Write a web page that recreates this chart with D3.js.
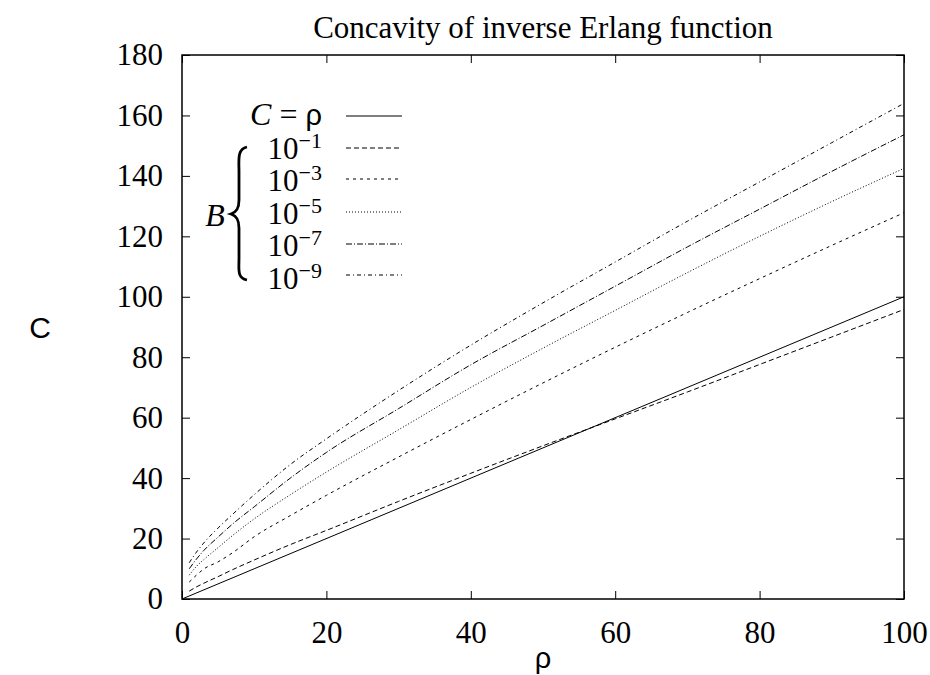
<!DOCTYPE html>
<html>
<head>
<meta charset="utf-8">
<script src="https://cdn.jsdelivr.net/npm/d3@7"></script>
<style>
  body { margin: 0; background: #fff; }
  svg { display: block; }
  text { font-family: "Liberation Serif", "Times New Roman", serif; fill: #000; }
</style>
</head>
<body>
<svg width="930" height="675"></svg>
<script>
// offered load rho, and capacity C for each blocking level
var rho = [1, 2, 3, 5, 7, 10, 15, 20, 30, 40, 50, 60, 70, 80, 90, 100];
var cB1 = [2.6, 4.0, 5.2, 7.4, 9.7, 12.9, 18.0, 22.7, 32.3, 41.6, 50.7, 59.6, 68.5, 77.6, 86.7, 95.8];
var cB3 = [5.6, 7.9, 9.9, 12.3, 15.3, 20.6, 27.6, 34.3, 47.0, 59.4, 71.5, 83.3, 94.8, 106.0, 117.0, 127.8];
var cB5 = [7.9, 10.8, 13.0, 17.0, 21.0, 26.5, 34.5, 42.0, 56.0, 70.0, 83.0, 95.5, 108.0, 120.0, 131.5, 142.5];
var cB7 = [10.0, 13.2, 16.0, 20.5, 24.8, 30.5, 40.0, 48.5, 63.0, 77.5, 90.5, 103.5, 116.5, 129.0, 141.5, 153.6];
var cB9 = [12.0, 15.5, 18.5, 23.5, 28.0, 34.5, 44.5, 53.0, 69.0, 84.0, 98.0, 111.5, 125.0, 138.0, 151.0, 164.0];
var rhoLine = [0, 100];

var xTicks = [0, 20, 40, 60, 80, 100];
var yTicks = [0, 20, 40, 60, 80, 100, 120, 140, 160, 180];
var blockExp = ["1", "3", "5", "7", "9"];

var svg = d3.select("svg"),
  margin = {top: 55, right: 26, bottom: 76, left: 182},
  width = +svg.attr("width") - margin.left - margin.right,
  height = +svg.attr("height") - margin.top - margin.bottom;

var x = d3.scaleLinear().domain([0, 100]).range([0, width]);
var y = d3.scaleLinear().domain([0, 180]).range([height, 0]);

var g = svg.append("g")
  .attr("transform", "translate(" + margin.left + "," + margin.top + ")");

// gnuplot style: inward ticks on all four sides
var tickLen = 8;
function styleAxis(sel) {
  sel.select(".domain").remove();
  sel.selectAll(".tick line").attr("stroke", "#000").attr("stroke-width", 1);
  sel.selectAll(".tick text")
    .style("font-family", "'Liberation Serif', serif")
    .style("font-size", "31px")
    .attr("fill", "#000");
}

g.append("g")
  .attr("transform", "translate(0," + height + ")")
  .call(d3.axisBottom(x).tickValues(xTicks).tickSizeInner(-tickLen).tickPadding(22))
  .call(styleAxis);
g.append("g")
  .call(d3.axisTop(x).tickValues(xTicks).tickSizeInner(-tickLen).tickFormat(""))
  .call(styleAxis);
g.append("g")
  .call(d3.axisLeft(y).tickValues(yTicks).tickSizeInner(-tickLen).tickPadding(19))
  .call(styleAxis);
g.append("g")
  .attr("transform", "translate(" + width + ",0)")
  .call(d3.axisRight(y).tickValues(yTicks).tickSizeInner(-tickLen).tickFormat(""))
  .call(styleAxis);

g.append("rect")
  .attr("width", width)
  .attr("height", height)
  .attr("fill", "none")
  .attr("stroke", "#000")
  .attr("stroke-width", 1.5);

var series = [
  {xs: rhoLine, ys: rhoLine, dash: null},
  {xs: rho, ys: cB1, dash: "5,3"},
  {xs: rho, ys: cB3, dash: "3,4"},
  {xs: rho, ys: cB5, dash: "1,2"},
  {xs: rho, ys: cB7, dash: "6,2,1,2"},
  {xs: rho, ys: cB9, dash: "4,3,1,3"}
];

var line = d3.line()
  .x(function(d) { return x(d[0]); })
  .y(function(d) { return y(d[1]); })
  .curve(d3.curveMonotoneX);

g.selectAll(".curve")
  .data(series)
  .enter()
  .append("path")
  .attr("class", "curve")
  .attr("fill", "none")
  .attr("stroke", "#000")
  .attr("stroke-width", 1)
  .attr("stroke-dasharray", function(d) { return d.dash; })
  .attr("d", function(d) {
    return line(d.xs.map(function(v, i) { return [v, d.ys[i]]; }));
  });

// legend
var legendLineY = [116, 148, 179, 212, 244, 275];
var legendTextY = [125, 159, 191, 224, 256, 289];

svg.selectAll(".key")
  .data(series)
  .enter()
  .append("line")
  .attr("class", "key")
  .attr("x1", 346).attr("x2", 402)
  .attr("y1", function(d, i) { return legendLineY[i]; })
  .attr("y2", function(d, i) { return legendLineY[i]; })
  .attr("stroke", "#000")
  .attr("stroke-width", 1)
  .attr("stroke-dasharray", function(d) { return d.dash; });

var first = svg.append("text")
  .attr("x", 322).attr("y", legendTextY[0])
  .attr("text-anchor", "end")
  .style("font-size", "32px");
first.append("tspan").style("font-style", "italic").text("C");
first.append("tspan").text(" = ");
first.append("tspan").style("font-family", "'Liberation Sans', sans-serif").style("font-size", "29px").text("ρ");

blockExp.forEach(function(e, i) {
  var t = svg.append("text")
    .attr("x", 322).attr("y", legendTextY[i + 1])
    .attr("text-anchor", "end")
    .style("font-size", "31px");
  t.append("tspan").text("10");
  t.append("tspan").attr("dy", -11).style("font-size", "22px").text("\u2212" + e);
});

svg.append("text")
  .attr("x", 215).attr("y", 226)
  .attr("text-anchor", "middle")
  .style("font-size", "32px")
  .style("font-style", "italic")
  .text("B");

// curly brace grouping the blocking levels
svg.append("path")
  .attr("d", "M247,147 C237,149 239,160 239,172 L239,200 C239,208 237,212 231,214 " +
             "C237,216 239,220 239,228 L239,258 C239,270 237,278 247,280")
  .attr("fill", "none")
  .attr("stroke", "#000")
  .attr("stroke-width", 2.8);

svg.append("text")
  .attr("x", (margin.left + margin.left + width) / 2).attr("y", 38)
  .attr("text-anchor", "middle")
  .style("font-size", "31px")
  .text("Concavity of inverse Erlang function");

svg.append("text")
  .attr("x", 40).attr("y", margin.top + height / 2 + 11)
  .attr("text-anchor", "middle")
  .style("font-family", "'Liberation Sans', sans-serif")
  .style("font-size", "30px")
  .text("C");

svg.append("text")
  .attr("x", margin.left + width / 2).attr("y", 668)
  .attr("text-anchor", "middle")
  .style("font-family", "'Liberation Sans', sans-serif")
  .style("font-size", "29px")
  .text("ρ");
</script>
</body>
</html>
